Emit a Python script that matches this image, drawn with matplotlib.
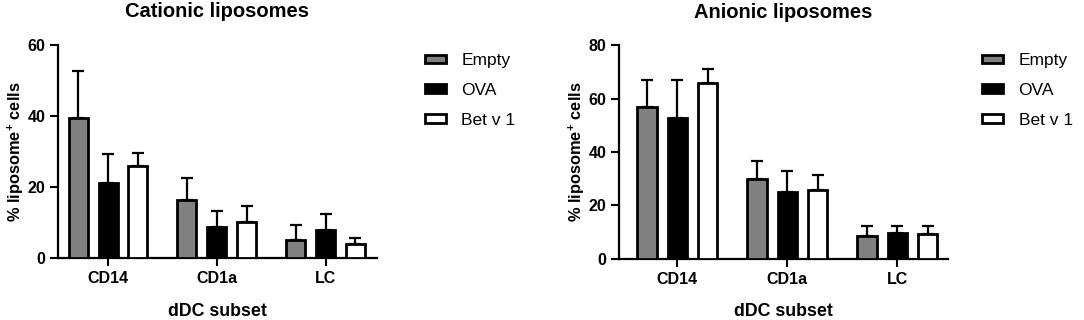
import matplotlib

matplotlib.use("Agg")
import matplotlib.pyplot as plt
import numpy as np
from matplotlib.patches import Patch

plt.rcParams["font.family"] = ["Liberation Sans", "DejaVu Sans"]
plt.rcParams["mathtext.fontset"] = "custom"
plt.rcParams["mathtext.rm"] = "Liberation Sans:bold"
plt.rcParams["mathtext.default"] = "rm"

subsets = ["CD14", "CD1a", "LC"]
groups = ["Empty", "OVA", "Bet v 1"]
colors = ["#808080", "#000000", "#ffffff"]

# cationic: mean and upper SD
cat_mean = {"Empty": [39.4, 16.2, 5.0], "OVA": [21.2, 8.6, 7.9], "Bet v 1": [26.0, 10.1, 3.9]}
cat_sd = {"Empty": [13.1, 6.4, 4.2], "OVA": [8.0, 4.6, 4.5], "Bet v 1": [3.4, 4.5, 1.6]}

# anionic
an_mean = {"Empty": [56.8, 29.9, 8.6], "OVA": [52.6, 24.8, 9.6], "Bet v 1": [65.8, 25.7, 9.3]}
an_sd = {"Empty": [10.3, 6.9, 3.8], "OVA": [14.5, 8.1, 2.8], "Bet v 1": [5.4, 5.8, 3.1]}


def panel(ax, means, sds, title, ymax, ystep, xlim):
    x = np.arange(len(subsets))
    for i, g in enumerate(groups):
        pos = x + (i - 1) * 0.275
        ax.bar(pos, means[g], width=0.175, color=colors[i], edgecolor="black",
               linewidth=2, zorder=3)
        ax.errorbar(pos, means[g], yerr=[np.zeros(3), sds[g]], fmt="none",
                    ecolor="black", elinewidth=1.6, capsize=4, capthick=1.6, zorder=2)
    ax.set_xlim(*xlim)
    ax.set_ylim(0, ymax)
    ax.set_yticks(np.arange(0, ymax + 1, ystep))
    ax.set_xticks(x)
    ax.set_xticklabels(subsets, fontweight="bold")
    for lab in ax.get_yticklabels():
        lab.set_fontweight("bold")
    ax.tick_params(axis="both", labelsize=11.5, width=1.5, length=5.5, direction="out")
    ax.tick_params(axis="x", pad=4)
    for s in ["top", "right"]:
        ax.spines[s].set_visible(False)
    for s in ["left", "bottom"]:
        ax.spines[s].set_linewidth(1.6)
    ax.set_title(title, fontsize=14.5, fontweight="bold", pad=20)
    ax.set_xlabel("dDC subset", fontsize=12.8, fontweight="bold", labelpad=12)
    ax.set_ylabel("% liposome$^{+}$ cells", fontsize=11.8, fontweight="bold", labelpad=1)


fig = plt.figure(figsize=(10.84, 3.2), dpi=100)
ax1 = fig.add_axes([0.0535, 0.194, 0.294, 0.666])
ax2 = fig.add_axes([0.571, 0.192, 0.3035, 0.666])

panel(ax1, cat_mean, cat_sd, "Cationic liposomes", 60, 20, (-0.46, 2.47))
panel(ax2, an_mean, an_sd, "Anionic liposomes", 80, 20, (-0.53, 2.46))

handles = [Patch(facecolor=c, edgecolor="black", linewidth=2) for c in colors]
for ax, lx in [(ax1, 0.392), (ax2, 0.906)]:
    ax.legend(handles, groups, loc="upper left", bbox_to_anchor=(lx, 0.834),
              bbox_transform=fig.transFigure, frameon=False, borderpad=0,
              borderaxespad=0, fontsize=12.5, handlelength=1.2, handleheight=0.4,
              labelspacing=0.85, handletextpad=0.9)

plt.savefig("out.png", dpi=100)
